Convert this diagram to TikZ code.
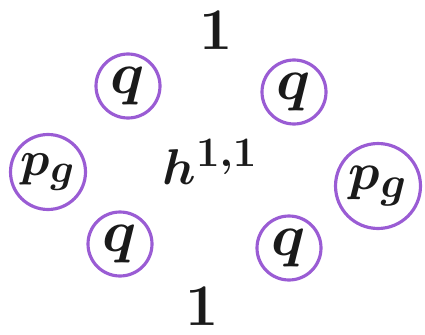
\documentclass[tikz,border=0pt]{standalone}
\usepackage{amsmath,amssymb}
\usepackage{graphicx}
\usepackage{tikz}
\usepackage{xcolor}
\usetikzlibrary{positioning}
\definecolor{ringviolet}{HTML}{9A5CD4}
\definecolor{ink}       {HTML}{1A1A1A}
\newcommand{\hodge}[1]{\scalebox{1.35}{$#1$}}
\tikzset{
  hodgenum/.style  ={text=ink, inner sep=0pt, font=\Huge\boldmath},
  ringnode/.style  ={circle, draw=ringviolet, line width=1.8pt, text=ink,
                     minimum size=1.28cm, inner sep=0pt, font=\Huge\boldmath},
  bigring/.style   ={ringnode, minimum size=1.5cm},
}

\begin{document}
\begin{tikzpicture}[x=0.02cm,y=-0.02cm]
    \useasboundingbox (0,0) rectangle (425,334);
    % ----- top and bottom -----
    \node[hodgenum] (top) at (216,30) {\hodge{1}};
    \node[hodgenum] (bot) at (202,306) {\hodge{1}};

    % ----- first row (q) -----
    \node[ringnode] (qtl) at (128,86) {\hodge{q}};
    \node[ringnode] (qtr) at (294,92) {\hodge{q}};

    % ----- middle row -----
    \node[bigring] (pgl) at (48,172) {\scalebox{1.12}{$p_g$}};
    \node[hodgenum] (hmid) at (210,162) {\scalebox{1.15}{$h^{1,1}$}};
    \node[bigring,minimum size=1.7cm] (pgr) at (378,186) {\scalebox{1.2}{$p_g$}};

    % ----- last row (q) -----
    \node[ringnode] (qbl) at (120,244) {\hodge{q}};
    \node[ringnode] (qbr) at (289,248) {\hodge{q}};
  \end{tikzpicture}
\end{document}
